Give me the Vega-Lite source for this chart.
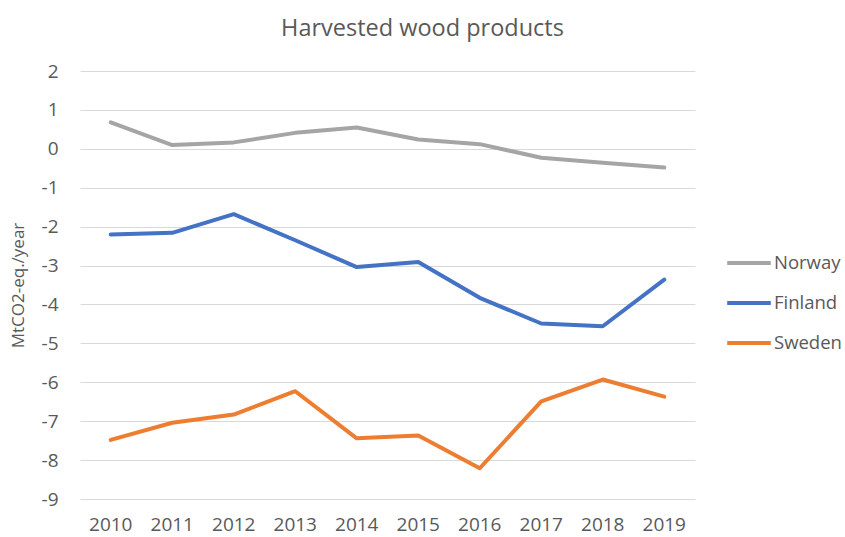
{
  "$schema": "https://vega.github.io/schema/vega-lite/v6.json",
  "width": 615,
  "height": 428,
  "autosize": {"type": "none"},
  "padding": {"left": 80, "top": 71, "right": 150, "bottom": 38},
  "background": "white",
  "title": {
    "text": "Harvested wood products",
    "font": "Open Sans",
    "fontSize": 23.5,
    "fontWeight": "normal",
    "color": "#595959",
    "anchor": "middle",
    "dx": 35,
    "offset": 22
  },
  "config": {
    "view": {"stroke": null},
    "font": "Open Sans"
  },
  "data": {
    "values": [
      {"year": "2010", "country": "Norway", "value": 0.68},
      {"year": "2011", "country": "Norway", "value": 0.095},
      {"year": "2012", "country": "Norway", "value": 0.165},
      {"year": "2013", "country": "Norway", "value": 0.41},
      {"year": "2014", "country": "Norway", "value": 0.55},
      {"year": "2015", "country": "Norway", "value": 0.24},
      {"year": "2016", "country": "Norway", "value": 0.12},
      {"year": "2017", "country": "Norway", "value": -0.23},
      {"year": "2018", "country": "Norway", "value": -0.36},
      {"year": "2019", "country": "Norway", "value": -0.48},
      {"year": "2010", "country": "Finland", "value": -2.2},
      {"year": "2011", "country": "Finland", "value": -2.16},
      {"year": "2012", "country": "Finland", "value": -1.68},
      {"year": "2013", "country": "Finland", "value": -2.35},
      {"year": "2014", "country": "Finland", "value": -3.04},
      {"year": "2015", "country": "Finland", "value": -2.91},
      {"year": "2016", "country": "Finland", "value": -3.83},
      {"year": "2017", "country": "Finland", "value": -4.49},
      {"year": "2018", "country": "Finland", "value": -4.56},
      {"year": "2019", "country": "Finland", "value": -3.36},
      {"year": "2010", "country": "Sweden", "value": -7.48},
      {"year": "2011", "country": "Sweden", "value": -7.04},
      {"year": "2012", "country": "Sweden", "value": -6.83},
      {"year": "2013", "country": "Sweden", "value": -6.23},
      {"year": "2014", "country": "Sweden", "value": -7.44},
      {"year": "2015", "country": "Sweden", "value": -7.37},
      {"year": "2016", "country": "Sweden", "value": -8.21},
      {"year": "2017", "country": "Sweden", "value": -6.49},
      {"year": "2018", "country": "Sweden", "value": -5.93},
      {"year": "2019", "country": "Sweden", "value": -6.37}
    ]
  },
  "mark": {"type": "line", "strokeWidth": 4, "strokeCap": "round", "strokeJoin": "round"},
  "encoding": {
    "x": {
      "field": "year",
      "type": "ordinal",
      "scale": {"type": "band", "paddingInner": 0, "paddingOuter": 0},
      "axis": {
        "title": null,
        "labelAngle": 0,
        "ticks": false,
        "domain": false,
        "grid": false,
        "labelFontSize": 19,
        "labelColor": "#595959",
        "labelPadding": 16
      }
    },
    "y": {
      "field": "value",
      "type": "quantitative",
      "scale": {"domain": [-9, 2], "nice": false, "zero": false},
      "axis": {
        "title": "MtCO2-eq./year",
        "titleFontSize": 17,
        "titleFontWeight": "normal",
        "titleColor": "#595959",
        "titlePadding": 14,
        "values": [-9, -8, -7, -6, -5, -4, -3, -2, -1, 0, 1, 2],
        "labelExpr": "replace(datum.label, '−', '-')",
        "ticks": false,
        "domain": false,
        "grid": true,
        "gridColor": "#D9D9D9",
        "gridWidth": 1,
        "labelFontSize": 19,
        "labelColor": "#595959",
        "labelPadding": 22
      }
    },
    "color": {
      "field": "country",
      "type": "nominal",
      "scale": {
        "domain": ["Norway", "Finland", "Sweden"],
        "range": ["#A5A5A5", "#4472C4", "#ED7D31"]
      },
      "legend": {
        "title": null,
        "orient": "none",
        "legendX": 645,
        "legendY": 168,
        "symbolType": "stroke",
        "symbolSize": 1900,
        "symbolStrokeWidth": 4,
        "labelFontSize": 18.5,
        "labelColor": "#595959",
        "labelOffset": 1,
        "rowPadding": 6
      }
    }
  }
}
